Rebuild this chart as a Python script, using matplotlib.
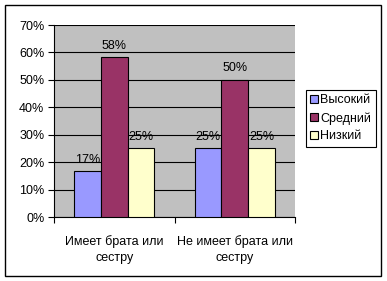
import matplotlib.pyplot as plt
from matplotlib.patches import Rectangle
import numpy as np

categories = ['Имеет брата или\nсестру', 'Не имеет брата или\nсестру']
series = ['Высокий', 'Средний', 'Низкий']
vysokiy = [0.167, 0.25]
sredniy = [0.583, 0.50]
nizkiy = [0.25, 0.25]
labels = [['17%', '25%'], ['58%', '50%'], ['25%', '25%']]
colors = ['#9999FF', '#993366', '#FFFFCC']

plt.rcParams['font.family'] = ['Liberation Sans', 'DejaVu Sans']
fs = 9

fig = plt.figure(figsize=(3.87, 2.81), dpi=100)
W, H = 387, 281
ax = fig.add_axes([54 / W, 1 - 217 / H, (295 - 54) / W, (217 - 25) / H])
ax.set_facecolor('#C0C0C0')

x = np.arange(len(categories)) + 0.5
bw = 0.2213
for i, (vals, c) in enumerate(zip([vysokiy, sredniy, nizkiy], colors)):
    pos = x + (i - 1) * bw
    ax.bar(pos, vals, bw, color=c, edgecolor='black', linewidth=0.8,
           label=series[i], zorder=3)
    for p, v, t in zip(pos, vals, labels[i]):
        ax.text(p, v + 0.02, t, ha='center', va='bottom', fontsize=fs, zorder=4)

ax.set_xlim(0, 2)
ax.set_ylim(0, 0.7)
ax.set_yticks(np.arange(0, 0.71, 0.1))
ax.set_yticklabels([f'{int(round(v * 100))}%' for v in np.arange(0, 0.71, 0.1)], fontsize=fs)
ax.yaxis.grid(True, color='black', linewidth=0.8, zorder=1)
ax.set_axisbelow(True)
ax.set_xticks([0, 1, 2])
ax.set_xticklabels([])
ax.set_xticks(x, minor=True)
ax.set_xticklabels(categories, minor=True, fontsize=fs, linespacing=1.5)
ax.tick_params(axis='x', which='minor', length=0, pad=13)
ax.tick_params(axis='x', which='major', length=4, width=0.8, direction='out')
ax.tick_params(axis='y', length=4, width=0.8, direction='out', pad=3)
for s in ['top', 'right']:
    ax.spines[s].set_visible(False)
for s in ['left', 'bottom']:
    ax.spines[s].set_linewidth(0.8)

leg = fig.legend(loc='upper left', bbox_to_anchor=(306 / W, 1 - 90 / H), fontsize=fs,
                 frameon=True, fancybox=False, edgecolor='black', framealpha=1,
                 handlelength=0.6, handleheight=0.6, handletextpad=0.2,
                 borderpad=0.35, labelspacing=0.45, borderaxespad=0)
leg.get_frame().set_linewidth(0.8)

fig.patches.append(Rectangle((5 / W, 5 / H), (381 - 5) / W, (276 - 5) / H,
                             transform=fig.transFigure, fill=False,
                             edgecolor='black', linewidth=1.0))

plt.savefig('out.png', dpi=100)
